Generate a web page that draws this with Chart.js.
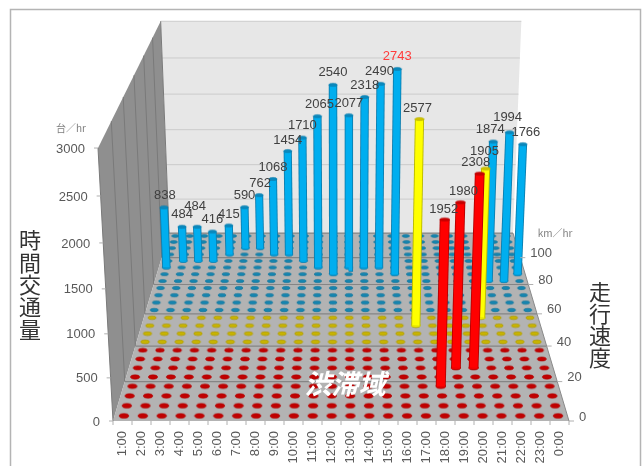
<!DOCTYPE html>
<html lang="ja">
<head>
<meta charset="utf-8">
<title>時間交通量と走行速度</title>
<script src="https://cdn.jsdelivr.net/npm/chart.js@4"></script>
<style>
    html, body { margin: 0; padding: 0; background: #fff; overflow: hidden; }
    canvas { display: block; }
</style>
</head>
<body>
<canvas id="trafficChart" width="643" height="466"></canvas>
<script>
// Hourly traffic data
const hours = ['1:00', '2:00', '3:00', '4:00', '5:00', '6:00', '7:00', '8:00', '9:00', '10:00', '11:00', '12:00',
    '13:00', '14:00', '15:00', '16:00', '17:00', '18:00', '19:00', '20:00', '21:00', '22:00', '23:00', '0:00'];
const volumes = [838, 484, 484, 416, 415, 590, 762, 1068, 1454, 1710, 2065, 2540,
    2077, 2318, 2490, 2743, 2577, 1952, 1980, 2308, 1905, 1874, 1994, 1766];
const speeds = [92.5, 97.5, 97.5, 97.5, 102.5, 107.5, 107.5, 102.5, 102.5, 97.5, 92.5, 87.5,
    92.5, 92.5, 92.5, 87.5, 52.5, 17.5, 27.5, 27.5, 57.5, 82.5, 82.5, 87.5];
const speedRows = [2.5, 7.5, 12.5, 17.5, 22.5, 27.5, 32.5, 37.5, 42.5, 47.5, 52.5, 57.5,
    62.5, 67.5, 72.5, 77.5, 82.5, 87.5, 92.5, 97.5, 102.5, 107.5, 112.5, 117.5];
const volumeTicks = [0, 500, 1000, 1500, 2000, 2500, 3000];
const speedTicks = [0, 20, 40, 60, 80, 100];

const VOLUME_MAX = 3000;
const SPEED_MAX = 120;

// Label offsets from the top of each bar, in pixels
const labelShift = [[1, -12], [0, -12], [-2, -20], [0, -12], [0, -11], [0, -12], [1, -12], [0, -12],
    [0, -11], [0, -12], [2, -12], [0, -12], [0, -12], [0, -12], [-1, -12], [0, -12],
    [-2, -11], [-1, -10], [3, -11], [-4, -11], [-1, -17], [-3, -12], [-2, -15], [3, -12]];

// Speed bands: colour of floor dots and of bars
function bandFor(speed) {
    if (speed < 40) return { dot: '#C00000', dotEdge: '#B00000', bar: '#FF0000', edge: '#B80000', cap: '#C80000' };
    if (speed < 60) return { dot: '#C8B400', dotEdge: '#A89600', bar: '#FFFF00', edge: '#B8B800', cap: '#D0C000' };
    return { dot: '#1585B0', dotEdge: '#107499', bar: '#00AEEF', edge: '#0C7FB0', cap: '#0A88BC' };
}

// Perspective view of the box: u runs along the hours (-1..1), d is depth, h is height (0..1)
function view(u, d, h) {
    const w = 1 + 0.326 * d - 0.0617 * h;
    return { x: 341 + 228 * u / w, y: (421 - 112 * d - 282.1 * h) / w };
}
const hourU = i => (i + 0.5) / 12 - 1;
const depth = speed => speed / SPEED_MAX;
const height = volume => volume / VOLUME_MAX;
const sizeAt = (d, h) => 1 / (1 + 0.326 * d - 0.0617 * h);

// Elliptical point sprite, cached per colour and size
const sprites = {};
function ellipseSprite(fill, edge, rx, ry) {
    const key = [fill, rx.toFixed(2), ry.toFixed(2)].join('|');
    if (!sprites[key]) {
        const c = document.createElement('canvas');
        c.width = Math.ceil(rx) * 2 + 2;
        c.height = Math.ceil(ry) * 2 + 2;
        const g = c.getContext('2d');
        g.beginPath();
        g.ellipse(c.width / 2, c.height / 2, rx, ry, 0, 0, Math.PI * 2);
        g.fillStyle = fill;
        g.fill();
        g.strokeStyle = edge;
        g.lineWidth = 0.6;
        g.stroke();
        sprites[key] = c;
    }
    return sprites[key];
}

function lineSet(points, color, width) {
    return { data: points, showLine: true, borderColor: color, borderWidth: width, pointRadius: 0, fill: false };
}
function shapeSet(points, color) {
    return { data: points, showLine: true, borderWidth: 0, borderColor: color, backgroundColor: color, pointRadius: 0, fill: 'shape' };
}
function ellipseSet(point, sprite) {
    return { data: [point], showLine: false, pointStyle: sprite, pointRadius: 4 };
}

// Walls, floor and grid lines
function boxDatasets() {
    const sets = [];
    sets.push(shapeSet([view(-1, 0, 0), view(-1, 0, 1), view(-1, 1, 1), view(-1, 1, 0), view(-1, 0, 0)], '#8F8F8F'));
    sets.push(shapeSet([view(-1, 1, 0), view(-1, 1, 1), view(1, 1, 1), view(1, 1, 0), view(-1, 1, 0)], '#E7E7E7'));
    sets.push(shapeSet([view(-1, 0, 0), view(-1, 1, 0), view(1, 1, 0), view(1, 0, 0), view(-1, 0, 0)], '#B3B3B3'));
    sets.push(lineSet([view(1, 1, 0), view(1, 0, 0)], '#8A8A8A', 1));

    volumeTicks.slice(1).forEach(v => {
        sets.push(lineSet([view(-1, 1, height(v)), view(1, 1, height(v))], '#CBCBCB', 1));
    });
    speedTicks.concat([SPEED_MAX]).forEach(s => {
        const d = depth(s);
        sets.push(lineSet([view(-1, d, 0), view(-1, d, 1)], '#7A7A7A', 1));
        if (s > 0) sets.push(lineSet([view(-1, d, 0), view(1, d, 0)], '#858585', 1.2));
    });
    return sets;
}

// One row of speed dots across the floor, back rows first
function dotDatasets() {
    return speedRows.slice().reverse().map(speed => {
        const d = depth(speed);
        const band = bandFor(speed);
        const s = sizeAt(d, 0);
        return {
            data: hours.map((_, i) => view(hourU(i), d, 0)),
            showLine: false,
            pointStyle: ellipseSprite(band.dot, band.dotEdge, 4.8 * s, 2.4 * s * s),
            pointRadius: 4
        };
    });
}

// Cylindrical bars, painted from the back of the floor to the front
function barDatasets() {
    const order = hours.map((_, i) => i).sort((a, b) => speeds[b] - speeds[a]);
    const sets = [];
    order.forEach(i => {
        const d = depth(speeds[i]);
        const h = height(volumes[i]);
        const band = bandFor(speeds[i]);
        const base = view(hourU(i), d, 0);
        const top = view(hourU(i), d, h);
        const s = sizeAt(d, 0);
        const width = 10.5 * s;
        sets.push(ellipseSet(base, ellipseSprite(band.bar, band.edge, width / 2, 1.4)));
        sets.push(lineSet([base, top], band.edge, width));
        sets.push(lineSet([base, top], band.bar, width - 1.8));
        sets.push(ellipseSet(top, ellipseSprite(band.cap, band.edge, width / 2, 1.6)));
    });
    return sets;
}

// Text and tick marks, all placed from the same view()
const textPlugin = {
    id: 'boxText',
    beforeDraw(chart) {
        const ctx = chart.ctx;
        ctx.save();
        ctx.fillStyle = '#fff';
        ctx.fillRect(0, 0, chart.width, chart.height);
        ctx.strokeStyle = '#B4B4B4';
        ctx.lineWidth = 1.5;
        ctx.strokeRect(10.5, 9.5, 630, 500);
        ctx.restore();
    },
    afterDatasetsDraw(chart) {
        const ctx = chart.ctx;
        const X = chart.scales.x;
        const Y = chart.scales.y;
        const px = p => ({ x: X.getPixelForValue(p.x), y: Y.getPixelForValue(p.y) });
        ctx.save();
        ctx.textBaseline = 'middle';
        ctx.strokeStyle = '#B0B0B0';
        ctx.lineWidth = 1;

        // Volume axis
        ctx.font = '13px "Liberation Sans"';
        ctx.fillStyle = '#595959';
        ctx.textAlign = 'right';
        volumeTicks.forEach(v => {
            const p = px(view(-1, 0, height(v)));
            ctx.beginPath();
            ctx.moveTo(p.x - 4, p.y);
            ctx.lineTo(p.x, p.y);
            ctx.stroke();
            ctx.fillText(String(v), p.x - 13, p.y + 1);
        });

        // Speed axis
        ctx.textAlign = 'left';
        speedTicks.forEach(s => {
            const p = px(view(1, depth(s), 0));
            ctx.beginPath();
            ctx.moveTo(p.x, p.y);
            ctx.lineTo(p.x + 5, p.y);
            ctx.stroke();
            ctx.fillText(String(s), p.x + 10, p.y - 4);
        });

        // Hour axis
        hours.forEach((hour, i) => {
            const edge = px(view(hourU(i) - 1 / 24, 0, 0));
            ctx.beginPath();
            ctx.moveTo(edge.x, edge.y);
            ctx.lineTo(edge.x, edge.y + 4);
            ctx.stroke();
            const p = px(view(hourU(i), 0, 0));
            ctx.save();
            ctx.translate(p.x, p.y + 10);
            ctx.rotate(-Math.PI / 2);
            ctx.textAlign = 'right';
            ctx.fillText(hour, 0, 0);
            ctx.restore();
        });
        const lastEdge = px(view(1, 0, 0));
        ctx.beginPath();
        ctx.moveTo(lastEdge.x, lastEdge.y);
        ctx.lineTo(lastEdge.x, lastEdge.y + 4);
        ctx.stroke();

        // Units
        ctx.font = '10px "Noto Sans CJK JP"';
        ctx.fillStyle = '#7F7F7F';
        ctx.textAlign = 'center';
        ctx.fillText('台／hr', 71, 128);
        ctx.fillText('km／hr', 555, 233);

        // Value above each bar
        ctx.font = '13px "Liberation Sans"';
        volumes.forEach((v, i) => {
            const p = px(view(hourU(i), depth(speeds[i]), height(v)));
            ctx.fillStyle = v === Math.max(...volumes) ? '#FF3B3B' : '#404040';
            ctx.fillText(String(v), p.x + labelShift[i][0], p.y + labelShift[i][1]);
        });

        // Axis titles, stacked vertically
        ctx.font = '22px "Noto Sans CJK JP"';
        ctx.fillStyle = '#333333';
        Array.from('時間交通量').forEach((ch, i) => ctx.fillText(ch, 30, 240 + i * 22.3));
        Array.from('走行速度').forEach((ch, i) => ctx.fillText(ch, 600, 292 + i * 22));

        // Congestion zone caption
        ctx.font = 'italic bold 27px "Noto Sans CJK JP"';
        ctx.fillStyle = '#FFFFFF';
        ctx.fillText('渋滞域', 345, 384);
        ctx.restore();
    }
};

// Chart.js paints the first dataset last, so flip the back-to-front list
const painted = [...boxDatasets(), ...dotDatasets(), ...barDatasets()].reverse();

new Chart(document.getElementById('trafficChart').getContext('2d'), {
    type: 'scatter',
    data: { datasets: painted },
    options: {
        responsive: false,
        animation: false,
        events: [],
        layout: { autoPadding: false, padding: 0 },
        plugins: {
            legend: { display: false },
            tooltip: { enabled: false },
            filler: { propagate: false }
        },
        scales: {
            x: { type: 'linear', display: false, min: 0, max: 643 },
            y: { type: 'linear', display: false, min: 0, max: 466, reverse: true }
        }
    },
    plugins: [textPlugin]
});
</script>
</body>
</html>
